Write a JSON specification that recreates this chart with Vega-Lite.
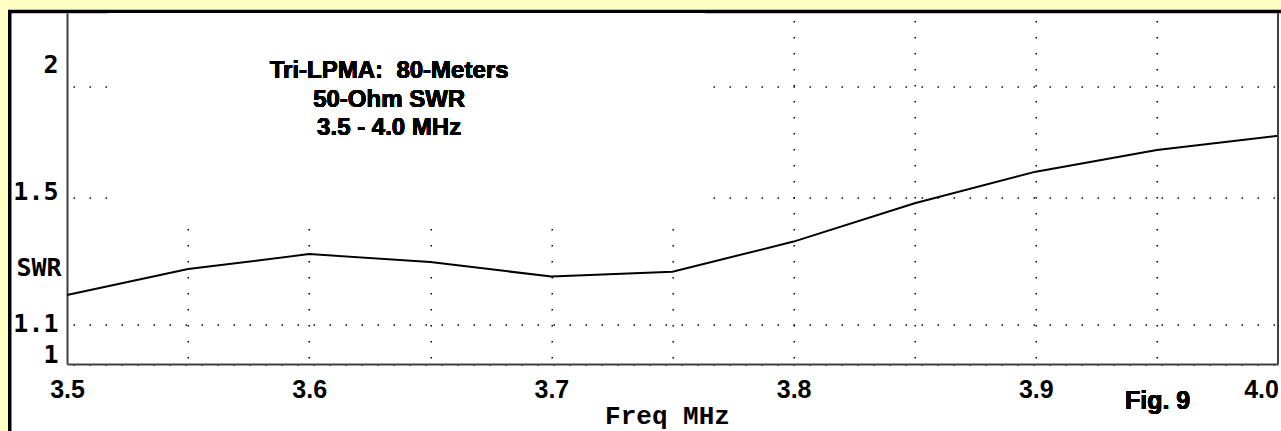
{
  "$schema": "https://vega.github.io/schema/vega-lite/v6.json",
  "width": 1280,
  "height": 431,
  "autosize": {"type": "none"},
  "padding": {"left": 9.75, "top": 11.5, "right": 0, "bottom": 0},
  "background": "#FFFFC4",
  "config": {
    "view": {"fill": "white", "stroke": "black", "strokeWidth": 3.5},
    "axis": {
      "ticks": false,
      "tickSize": 0,
      "domainColor": "#404040",
      "domainWidth": 2,
      "gridColor": "black",
      "gridWidth": 1.5,
      "gridDash": [1.5, 14.5],
      "gridDashOffset": 10,
      "labelColor": "black",
      "titleColor": "black"
    }
  },
  "resolve": {"axis": {"x": "independent"}},
  "data": {
    "values": [
      {"freq": 3.50, "swr": 1.180},
      {"freq": 3.55, "swr": 1.257},
      {"freq": 3.60, "swr": 1.304},
      {"freq": 3.65, "swr": 1.279},
      {"freq": 3.70, "swr": 1.234},
      {"freq": 3.75, "swr": 1.249},
      {"freq": 3.80, "swr": 1.345},
      {"freq": 3.85, "swr": 1.480},
      {"freq": 3.90, "swr": 1.603},
      {"freq": 3.95, "swr": 1.694},
      {"freq": 4.00, "swr": 1.757}
    ]
  },
  "layer": [
    {
      "mark": {"type": "line", "color": "black", "strokeWidth": 2},
      "encoding": {
        "x": {
          "field": "freq",
          "type": "quantitative",
          "scale": {"domain": [3.5, 4.0], "range": [57.25, 1268.25], "zero": false, "nice": false},
          "axis": {
            "orient": "bottom",
            "offset": -78.5,
            "grid": false,
            "values": [3.5, 3.6, 3.7, 3.8, 3.9, 4.0],
            "format": ".1f",
            "labelFont": "Liberation Sans",
            "labelFontWeight": "bold",
            "labelFontSize": 25,
            "labelBaseline": "alphabetic",
            "labelPadding": 33,
            "labelFlush": false,
            "labelOverlap": false,
            "labelOffset": {"expr": "datum.value == 4 ? -17 : 0"},
            "title": "Freq MHz",
            "titleFont": "Liberation Mono",
            "titleFontWeight": "bold",
            "titleFontSize": 26,
            "titleX": 657.25,
            "titleY": 59,
            "titleAlign": "center",
            "titleBaseline": "alphabetic"
          }
        },
        "y": {
          "field": "swr",
          "type": "quantitative",
          "scale": {"type": "pow", "exponent": -0.15, "domain": [1, 2.43], "range": [352.5, 1.5], "zero": false, "nice": false},
          "axis": {
            "orient": "left",
            "offset": -57.25,
            "grid": true,
            "values": [1, 1.1, 1.5, 2],
            "labelExpr": "'' + datum.value",
            "labelFont": "DejaVu Sans Mono",
            "labelFontWeight": "bold",
            "labelFontSize": 25,
            "labelAlign": "right",
            "labelBaseline": "alphabetic",
            "labelPadding": 9,
            "labelOffset": {"expr": "datum.value == 2 ? -14 : datum.value == 1.5 ? 2 : datum.value == 1.1 ? 7 : -2"},
            "labelOverlap": false,
            "title": "SWR",
            "titleFont": "DejaVu Sans Mono",
            "titleFontWeight": "bold",
            "titleFontSize": 25,
            "titleAngle": 0,
            "titleX": -28.5,
            "titleY": 264,
            "titleAlign": "center",
            "titleBaseline": "alphabetic"
          }
        }
      }
    },
    {
      "mark": {"type": "rect", "color": "white"},
      "encoding": {
        "x": {
          "datum": 3.5169,
          "type": "quantitative",
          "axis": {
            "orient": "top",
            "grid": true,
            "domain": false,
            "labels": false,
            "ticks": false,
            "title": null,
            "values": [3.55, 3.6, 3.65, 3.7, 3.75, 3.8, 3.85, 3.9, 3.95]
          }
        },
        "x2": {"datum": 3.7634},
        "y": {"datum": 1.412, "type": "quantitative"},
        "y2": {"datum": 2.43}
      }
    },
    {
      "mark": {"type": "rule", "color": "#404040", "strokeWidth": 2},
      "encoding": {
        "x": {"datum": 4.0, "type": "quantitative", "axis": null},
        "y": {"datum": 1, "type": "quantitative"},
        "y2": {"datum": 2.43}
      }
    },
    {
      "mark": {
        "type": "text",
        "text": ["Tri-LPMA:\u00a0 80-Meters", "50-Ohm SWR", "3.5 - 4.0 MHz"],
        "font": "Liberation Sans",
        "fontWeight": "bold",
        "fontSize": 24,
        "lineHeight": 28.3,
        "align": "center",
        "baseline": "middle",
        "color": "black"
      },
      "encoding": {
        "x": {"datum": 3.633, "type": "quantitative", "axis": null},
        "y": {"datum": 2.0784, "type": "quantitative"}
      }
    },
    {
      "mark": {
        "type": "text",
        "text": "Fig. 9",
        "font": "Liberation Sans",
        "fontWeight": "bold",
        "fontSize": 25,
        "align": "center",
        "baseline": "alphabetic",
        "color": "black"
      },
      "encoding": {
        "x": {"datum": 3.9503, "type": "quantitative", "axis": null},
        "y": {"datum": 0.8997, "type": "quantitative"}
      }
    }
  ]
}
